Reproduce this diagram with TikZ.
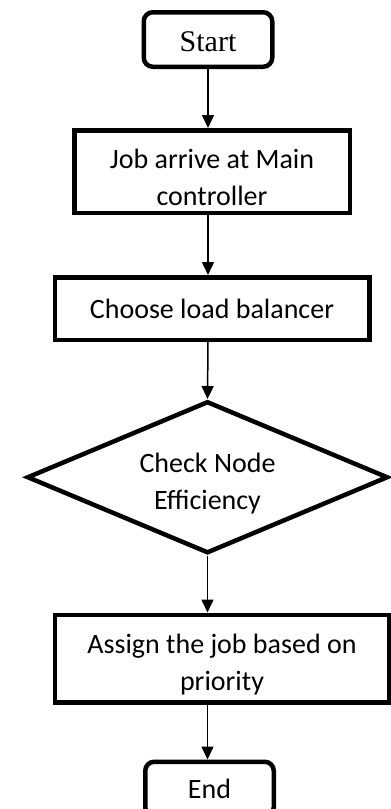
\documentclass[tikz,border=0pt]{standalone}
\usepackage{fontspec}
\setmainfont{Carlito}
\newfontfamily\timesfont{Liberation Serif}
\usetikzlibrary{positioning,shapes.geometric,arrows.meta}
\newcommand\lowtext{\rule{0pt}{32pt}}

\begin{document}
\begin{tikzpicture}[-,>={Triangle[length=13pt,width=12pt]},node distance=58pt,
    main node/.style={draw,line width=4.5pt,align=center,inner sep=0pt,font=\fontsize{28}{37}\selectfont},
    term node/.style={main node,rounded corners=9pt,minimum width=128.5pt,minimum height=54.5pt},
    step node/.style={main node,minimum width=#1},
    check node/.style={main node,diamond,aspect=2.4,minimum width=361pt,minimum height=152pt}]
            \useasboundingbox (0,0) rectangle (391pt,-809pt);
            \node[term node,font=\timesfont\fontsize{30}{36}\selectfont] (start) at (208pt,-39.5pt) {\rule{0pt}{24pt}Start};
            \node[step node=275.5pt,minimum height=82.5pt] (job) [below=59pt of start,xshift=4pt] {\lowtext Job arrive at Main\\controller};
            \node[step node=314.5pt,minimum height=62.5pt] (choose) [below=60pt of job] {Choose load balancer};
            \node[check node] (check) [below=57pt of choose,xshift=-4.5pt] {\lowtext Check Node\\Efficiency};
            \node[step node=334.5pt,minimum height=87.5pt] (assign) [below=57pt of check,xshift=14.5pt] {\lowtext Assign the job based on\\priority};
            \node[term node] (end) [below=55pt of assign,xshift=-12.5pt] {End};

            \path[->,line width=1.5pt]
                    (start) edge (start |- job.north)
                    (start |- job.south) edge (start |- choose.north)
                    (start |- choose.south) edge (check.north)
                    (check) edge (check |- assign.north)
                    (check |- assign.south) edge (check |- end.north)
                ;
        \end{tikzpicture}
\end{document}
